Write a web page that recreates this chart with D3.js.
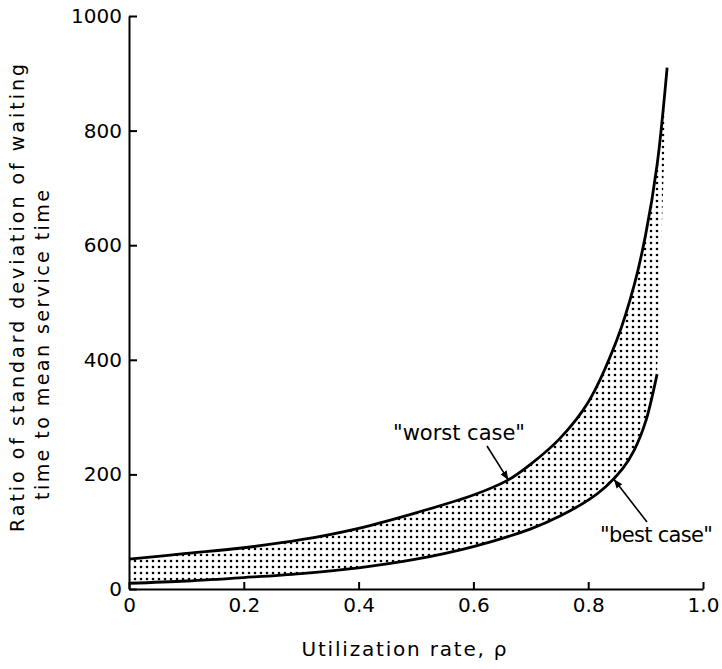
<!DOCTYPE html>
<html>
<head>
<meta charset="utf-8">
<script src="https://cdn.jsdelivr.net/npm/d3@7"></script>
<style>
    body { margin: 0; background: #fff; }
    text { font-family: "DejaVu Sans", sans-serif; fill: #000; }
</style>
</head>
<body>
<div id="chart"></div>
<script>
// values
var rho_worst = [0, 0.1, 0.2, 0.3, 0.4, 0.5, 0.6, 0.66, 0.7, 0.75, 0.8, 0.85, 0.88, 0.9, 0.92, 0.9375];
var worst_case = [52, 62, 72, 86, 106, 133, 164, 190, 218, 262, 326, 435, 530, 618, 740, 910];

var rho_best = [0, 0.1, 0.2, 0.3, 0.4, 0.5, 0.6, 0.7, 0.75, 0.8, 0.83, 0.86, 0.88, 0.9, 0.92];
var best_case = [10, 14, 20, 27, 37, 52, 74, 105, 127, 155, 178, 210, 242, 292, 375];

var x_ticks = [0, 0.2, 0.4, 0.6, 0.8, 1.0];
var x_tick_labels = ["0", "0.2", "0.4", "0.6", "0.8", "1.0"];
var y_ticks = [0, 200, 400, 600, 800, 1000];

var x_title = "Utilization rate, \u03c1";
var y_title = ["Ratio of standard deviation of waiting", "time to mean service time"];
var labels = ["\"worst case\"", "\"best case\""];

var width = 722, height = 669;

var svg = d3.select("#chart").append("svg")
    .attr("width", width)
    .attr("height", height);

// dotted fill between the two curves
var defs = svg.append("defs");
var pattern = defs.append("pattern")
    .attr("id", "dots")
    .attr("patternUnits", "userSpaceOnUse")
    .attr("width", 6)
    .attr("height", 6);
pattern.append("circle").attr("cx", 3).attr("cy", 3).attr("r", 1.3).attr("fill", "#000");

defs.append("marker")
    .attr("id", "arrow")
    .attr("viewBox", "0 0 10 10")
    .attr("refX", 9).attr("refY", 5)
    .attr("markerWidth", 9).attr("markerHeight", 9)
    .attr("markerUnits", "userSpaceOnUse")
    .attr("orient", "auto")
    .append("path").attr("d", "M0,1 L10,5 L0,9 Z").attr("fill", "#000");

var x = d3.scaleLinear().domain([0, 1]).range([129, 703]);
var y = d3.scaleLinear().domain([0, 1000]).range([589, 16]);

var worst_pts = rho_worst.map(function(r, i) { return [r, worst_case[i]]; });
var best_pts = rho_best.map(function(r, i) { return [r, best_case[i]]; });

var line = d3.line()
    .x(function(d) { return x(d[0]); })
    .y(function(d) { return y(d[1]); })
    .curve(d3.curveCatmullRom.alpha(0.5));

// band = worst curve out, best curve back
var band = line(worst_pts) + line(best_pts.slice().reverse()).replace(/^M/, "L") + "Z";
svg.append("path")
    .attr("d", band)
    .attr("fill", "url(#dots)")
    .attr("stroke", "none");

svg.append("path").attr("d", line(worst_pts))
    .attr("fill", "none").attr("stroke", "#000").attr("stroke-width", 2.8);
svg.append("path").attr("d", line(best_pts))
    .attr("fill", "none").attr("stroke", "#000").attr("stroke-width", 2.8);

// axes, ticks point inward
var x_axis = svg.append("g")
    .attr("transform", "translate(0," + y(0) + ")")
    .call(d3.axisBottom(x)
        .tickValues(x_ticks)
        .tickFormat(function(d, i) { return x_tick_labels[i]; })
        .tickSizeInner(-7).tickSizeOuter(0).tickPadding(9));

var y_axis = svg.append("g")
    .attr("transform", "translate(" + x(0) + ",0)")
    .call(d3.axisLeft(y)
        .tickValues(y_ticks)
        .tickFormat(d3.format("d"))
        .tickSizeInner(-8).tickSizeOuter(0).tickPadding(7));

[x_axis, y_axis].forEach(function(g) {
    g.select(".domain").attr("stroke-width", 2);
    g.selectAll(".tick line").attr("stroke-width", 2);
    g.selectAll(".tick text").style("font-size", "20px").attr("fill", "#000");
});

// axis titles
svg.append("text")
    .attr("x", 404).attr("y", 656)
    .attr("text-anchor", "middle")
    .attr("textLength", 205)
    .style("font-size", "20px")
    .text(x_title);

svg.append("text")
    .attr("transform", "translate(24,298) rotate(-90)")
    .attr("text-anchor", "middle")
    .attr("textLength", 468)
    .style("font-size", "19px")
    .text(y_title[0]);

svg.append("text")
    .attr("transform", "translate(49,345) rotate(-90)")
    .attr("text-anchor", "middle")
    .attr("textLength", 310)
    .style("font-size", "19px")
    .text(y_title[1]);

// curve labels with arrows
svg.append("text")
    .attr("x", 393).attr("y", 440)
    .attr("textLength", 132)
    .style("font-size", "21px")
    .text(labels[0]);
svg.append("line")
    .attr("x1", 487).attr("y1", 446)
    .attr("x2", x(0.66)).attr("y2", y(190) - 1)
    .attr("stroke", "#000").attr("stroke-width", 1.6)
    .attr("marker-end", "url(#arrow)");

svg.append("text")
    .attr("x", 600).attr("y", 542)
    .attr("textLength", 113)
    .style("font-size", "21px")
    .text(labels[1]);
svg.append("line")
    .attr("x1", 647).attr("y1", 522)
    .attr("x2", x(0.844) + 1).attr("y2", y(192) + 1)
    .attr("stroke", "#000").attr("stroke-width", 1.6)
    .attr("marker-end", "url(#arrow)");
</script>
</body>
</html>
